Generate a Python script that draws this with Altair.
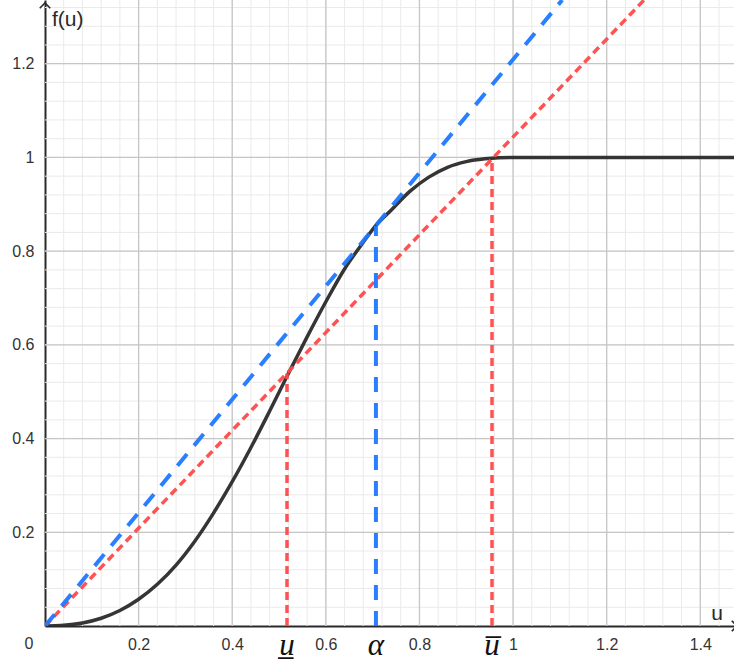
import altair as alt
import pandas as pd

# ---- data ----
curve_u = [0.0, 0.04, 0.08, 0.12, 0.16, 0.20, 0.24, 0.28, 0.32, 0.36, 0.40, 0.44, 0.48, 0.52,
           0.56, 0.60, 0.64, 0.68, 0.707, 0.74, 0.78, 0.82, 0.86, 0.90, 0.94, 0.97, 1.0, 1.48]
curve_f = [0.0, 0.0015, 0.0065, 0.0165, 0.033, 0.057, 0.089, 0.130, 0.181, 0.241, 0.308, 0.381, 0.459, 0.539,
           0.617, 0.692, 0.762, 0.819, 0.855, 0.888, 0.928, 0.958, 0.979, 0.991, 0.997, 0.9993, 1.0, 1.0]

blue_u = [0.0, 1.105]
blue_f = [0.0, 1.336]
red_u = [0.0, 1.28]
red_f = [0.0, 1.336]

mark_u = [0.517, 0.707, 0.955]
mark_f = [0.539, 0.854, 0.998]
mark_label = ["u\u0332", "\u03b1", "u\u0305"]
mark_series = ["red", "blue", "red"]

x_major = [0.2, 0.4, 0.6, 0.8, 1, 1.2, 1.4]
y_major = [0.2, 0.4, 0.6, 0.8, 1, 1.2]
x_minor = [round(0.04 * i, 2) for i in range(1, 37)]
y_minor = [round(0.04 * i, 2) for i in range(1, 34)]

X_DOM = [0, 1.472]
Y_DOM = [0, 1.336]
RED = "#ff4a4a"
BLUE = "#1e78ff"
INK = "#2a2a2a"
FONT = "Liberation Sans"

xs = alt.Scale(domain=X_DOM, nice=False, zero=False)
ys = alt.Scale(domain=Y_DOM, nice=False, zero=False)

x_axis = alt.Axis(values=x_major, format="~g", grid=False, ticks=False, domain=True,
                  domainColor=INK, domainWidth=2, labelFont=FONT, labelFontSize=16,
                  labelColor="#333333", labelPadding=10, title=None)
y_axis = alt.Axis(values=y_major, format="~g", grid=False, ticks=False, domain=True,
                  domainColor=INK, domainWidth=2, labelFont=FONT, labelFontSize=16,
                  labelColor="#333333", labelPadding=11, title=None)


def X(field):
    return alt.X(field, type="quantitative", scale=xs, axis=x_axis)


def Y(field):
    return alt.Y(field, type="quantitative", scale=ys, axis=y_axis)


curve_df = pd.DataFrame({"u": curve_u, "f": curve_f})
blue_df = pd.DataFrame({"u": blue_u, "f": blue_f})
red_df = pd.DataFrame({"u": red_u, "f": red_f})
mark_df = pd.DataFrame({"u": mark_u, "f": mark_f, "label": mark_label,
                        "series": mark_series, "zero": [0.0] * len(mark_u)})

minor_x = alt.Chart(pd.DataFrame({"u": x_minor})).mark_rule(
    color="#eaeaea", strokeWidth=1).encode(x=X("u"))
minor_y = alt.Chart(pd.DataFrame({"f": y_minor})).mark_rule(
    color="#eaeaea", strokeWidth=1).encode(y=Y("f"))
major_x = alt.Chart(pd.DataFrame({"u": x_major})).mark_rule(
    color="#c6c6c6", strokeWidth=1.3).encode(x=X("u"))
major_y = alt.Chart(pd.DataFrame({"f": y_major})).mark_rule(
    color="#c6c6c6", strokeWidth=1.3).encode(y=Y("f"))

red_line = alt.Chart(red_df).mark_line(
    color=RED, strokeWidth=3.5, strokeDash=[8, 5], clip=True, opacity=0.95
).encode(x=X("u"), y=Y("f"))
blue_line = alt.Chart(blue_df).mark_line(
    color=BLUE, strokeWidth=4, strokeDash=[15, 11], clip=True, opacity=0.95
).encode(x=X("u"), y=Y("f"))

red_v = alt.Chart(mark_df).transform_filter("datum.series == 'red'").mark_rule(
    color=RED, strokeWidth=3.5, strokeDash=[8, 5], opacity=0.95
).encode(x=X("u"), y=Y("zero"), y2="f")
blue_v = alt.Chart(mark_df).transform_filter("datum.series == 'blue'").mark_rule(
    color=BLUE, strokeWidth=4, strokeDash=[15, 11], opacity=0.95
).encode(x=X("u"), y=Y("zero"), y2="f")

curve = alt.Chart(curve_df).mark_line(
    color=INK, strokeWidth=3.5, clip=True, opacity=0.95, interpolate="monotone"
).encode(x=X("u"), y=Y("f"), order="u:Q")

mark_text = alt.Chart(mark_df).mark_text(
    font="Liberation Serif", fontStyle="italic", fontSize=31, baseline="alphabetic",
    align="center", dy=29, color="#111111"
).encode(x=X("u"), y=Y("zero"), text="label:N")

one = pd.DataFrame({"u": [0.0], "f": [0.0], "t": ["0"]})
zero_lbl = alt.Chart(one).mark_text(
    font=FONT, fontSize=16, color="#333333", align="center", baseline="middle", dx=-16, dy=18
).encode(x=X("u"), y=Y("f"), text="t:N")

fu_lbl = alt.Chart(pd.DataFrame({"t": ["f(u)"]})).mark_text(
    font=FONT, fontSize=21, color=INK, align="left", baseline="alphabetic"
).encode(x=alt.value(7), y=alt.value(26), text="t:N")
u_lbl = alt.Chart(pd.DataFrame({"t": ["u"]})).mark_text(
    font=FONT, fontSize=21, color=INK, align="center", baseline="alphabetic"
).encode(x=alt.value(672), y=alt.value(620), text="t:N")

arrow_up = alt.Chart(pd.DataFrame({"a": [0]})).mark_point(
    shape="M-1,1L0,0L1,1", filled=False, stroke=INK, strokeWidth=1.6, size=110, opacity=1
).encode(x=alt.value(0), y=alt.value(3))
arrow_right = alt.Chart(pd.DataFrame({"a": [0]})).mark_point(
    shape="M-1,-1L0,0L-1,1", filled=False, stroke=INK, strokeWidth=1.6, size=110, opacity=1
).encode(x=alt.value(692), y=alt.value(626))

chart = alt.layer(
    minor_x, minor_y, major_x, major_y,
    curve, red_line, blue_line, red_v, blue_v,
    mark_text, zero_lbl, fu_lbl, u_lbl, arrow_up, arrow_right
).properties(
    width=689, height=626,
    padding={"left": 45, "top": 0, "right": 0, "bottom": 35},
    autosize="none", background="white"
).configure_view(stroke=None)

chart.save("out.html", embed_options={"renderer": "svg", "actions": False})
